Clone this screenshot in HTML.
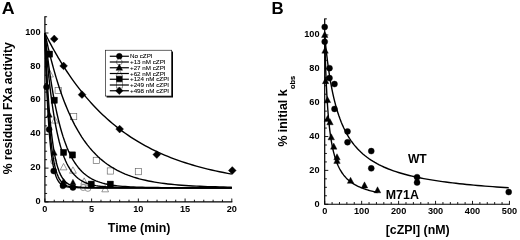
<!DOCTYPE html>
<html><head><meta charset="utf-8"><title>Figure</title>
<style>html,body{margin:0;padding:0;background:#fff}body{width:520px;height:240px;overflow:hidden}</style></head>
<body>
<svg width="520" height="240" viewBox="0 0 520 240" style="display:block;filter:blur(0.35px)">
<rect width="520" height="240" fill="#fff"/>
<g font-family="'Liberation Sans', sans-serif" font-weight="bold" fill="#000">
<text transform="translate(1.7,13.6) scale(1.1,1)" font-size="16.2">A</text>
<text transform="translate(271.4,13.6) scale(1.04,1)" font-size="16.2">B</text>
<g stroke="#000" stroke-width="1.2" fill="none">
<path d="M44.90 16.31 V201.90 H232.30"/>
</g>
<g stroke="#000" stroke-width="0.9" fill="none">
<path d="M44.90 201.90 h3.60"/>
<path d="M44.90 193.46 h2.20"/>
<path d="M44.90 185.01 h2.20"/>
<path d="M44.90 176.56 h2.20"/>
<path d="M44.90 168.12 h3.60"/>
<path d="M44.90 159.68 h2.20"/>
<path d="M44.90 151.23 h2.20"/>
<path d="M44.90 142.78 h2.20"/>
<path d="M44.90 134.34 h3.60"/>
<path d="M44.90 125.90 h2.20"/>
<path d="M44.90 117.45 h2.20"/>
<path d="M44.90 109.00 h2.20"/>
<path d="M44.90 100.56 h3.60"/>
<path d="M44.90 92.12 h2.20"/>
<path d="M44.90 83.67 h2.20"/>
<path d="M44.90 75.22 h2.20"/>
<path d="M44.90 66.78 h3.60"/>
<path d="M44.90 58.34 h2.20"/>
<path d="M44.90 49.89 h2.20"/>
<path d="M44.90 41.44 h2.20"/>
<path d="M44.90 33.00 h3.60"/>
<path d="M44.90 24.56 h2.20"/>
<path d="M44.90 16.76 h2.20"/>
<path d="M44.90 201.90 v-3.40"/>
<path d="M54.24 201.90 v-2.20"/>
<path d="M63.59 201.90 v-2.20"/>
<path d="M72.94 201.90 v-2.20"/>
<path d="M82.28 201.90 v-2.20"/>
<path d="M91.62 201.90 v-3.40"/>
<path d="M100.97 201.90 v-2.20"/>
<path d="M110.31 201.90 v-2.20"/>
<path d="M119.66 201.90 v-2.20"/>
<path d="M129.00 201.90 v-2.20"/>
<path d="M138.35 201.90 v-3.40"/>
<path d="M147.69 201.90 v-2.20"/>
<path d="M157.04 201.90 v-2.20"/>
<path d="M166.39 201.90 v-2.20"/>
<path d="M175.73 201.90 v-2.20"/>
<path d="M185.08 201.90 v-3.40"/>
<path d="M194.42 201.90 v-2.20"/>
<path d="M203.77 201.90 v-2.20"/>
<path d="M213.11 201.90 v-2.20"/>
<path d="M222.46 201.90 v-2.20"/>
<path d="M231.80 201.90 v-3.40"/>
</g>
<text transform="translate(40.6,203.50) scale(0.93,1)" font-size="9.9" text-anchor="end">0</text>
<text transform="translate(40.6,169.80) scale(0.93,1)" font-size="9.9" text-anchor="end">20</text>
<text transform="translate(40.6,136.10) scale(0.93,1)" font-size="9.9" text-anchor="end">40</text>
<text transform="translate(40.6,102.40) scale(0.93,1)" font-size="9.9" text-anchor="end">60</text>
<text transform="translate(40.6,68.70) scale(0.93,1)" font-size="9.9" text-anchor="end">80</text>
<text transform="translate(40.6,35.00) scale(0.93,1)" font-size="9.9" text-anchor="end">100</text>
<text transform="translate(44.90,212.3) scale(0.93,1)" font-size="9.9" text-anchor="middle">0</text>
<text transform="translate(91.62,212.3) scale(0.93,1)" font-size="9.9" text-anchor="middle">5</text>
<text transform="translate(138.35,212.3) scale(0.93,1)" font-size="9.9" text-anchor="middle">10</text>
<text transform="translate(185.08,212.3) scale(0.93,1)" font-size="9.9" text-anchor="middle">15</text>
<text transform="translate(231.80,212.3) scale(0.93,1)" font-size="9.9" text-anchor="middle">20</text>
<text x="139.1" y="232.2" font-size="12.45" text-anchor="middle">Time (min)</text>
<text transform="translate(12.2,108.2) rotate(-90)" font-size="12.2" text-anchor="middle">% residual FXa activity</text>
<circle cx="53.68" cy="161.36" r="3.00" fill="#fff" stroke="#555" stroke-width="0.6"/>
<circle cx="63.59" cy="184.17" r="3.00" fill="#fff" stroke="#555" stroke-width="0.6"/>
<circle cx="72.94" cy="186.70" r="3.00" fill="#fff" stroke="#555" stroke-width="0.6"/>
<circle cx="83.21" cy="187.54" r="3.00" fill="#fff" stroke="#555" stroke-width="0.6"/>
<circle cx="87.89" cy="188.39" r="3.00" fill="#fff" stroke="#555" stroke-width="0.6"/>
<polygon points="50.04,70.58 46.64,76.98 53.44,76.98" fill="#fff" stroke="#555" stroke-width="0.6"/>
<polygon points="54.90,116.69 51.50,123.09 58.30,123.09" fill="#fff" stroke="#555" stroke-width="0.6"/>
<polygon points="63.59,163.48 60.19,169.88 66.99,169.88" fill="#fff" stroke="#555" stroke-width="0.6"/>
<polygon points="72.94,166.85 69.53,173.25 76.34,173.25" fill="#fff" stroke="#555" stroke-width="0.6"/>
<polygon points="84.15,177.83 80.75,184.23 87.55,184.23" fill="#fff" stroke="#555" stroke-width="0.6"/>
<polygon points="105.18,185.43 101.78,191.83 108.58,191.83" fill="#fff" stroke="#555" stroke-width="0.6"/>
<rect x="55.07" y="87.49" width="6.20" height="6.20" fill="#fff" stroke="#555" stroke-width="0.6"/>
<rect x="70.58" y="113.51" width="6.20" height="6.20" fill="#fff" stroke="#555" stroke-width="0.6"/>
<rect x="93.20" y="157.25" width="6.20" height="6.20" fill="#fff" stroke="#555" stroke-width="0.6"/>
<rect x="107.22" y="167.89" width="6.20" height="6.20" fill="#fff" stroke="#555" stroke-width="0.6"/>
<rect x="135.25" y="168.57" width="6.20" height="6.20" fill="#fff" stroke="#555" stroke-width="0.6"/>
<g stroke="#000" stroke-width="1.4" fill="none" stroke-linejoin="round">
<path d="M44.90 33.00 L44.92 33.84 L44.99 36.33 L45.11 40.38 L45.27 45.88 L45.48 52.65 L45.73 60.48 L46.03 69.16 L46.38 78.43 L46.77 88.07 L47.21 97.84 L47.69 107.53 L48.22 116.95 L48.80 125.93 L49.42 134.36 L50.09 142.14 L50.81 149.20 L51.57 155.52 L52.38 161.09 L53.23 165.94 L54.13 170.10 L55.08 173.61 L56.07 176.55 L57.11 178.97 L58.19 180.94 L59.32 182.52 L60.50 183.78 L61.72 184.76 L62.99 185.52 L64.31 186.11 L65.67 186.55 L67.07 186.88 L68.53 187.12 L70.03 187.30 L71.57 187.42 L73.17 187.51 L74.80 187.58 L76.49 187.62 L78.22 187.65 L80.00 187.67 L81.82 187.69 L83.69 187.70 L85.60 187.70 L87.56 187.71 L89.57 187.71 L91.62 187.71 L93.72 187.71 L95.87 187.71 L98.06 187.71 L100.30 187.71 L102.59 187.71 L104.92 187.71 L107.29 187.71 L109.72 187.71 L112.18 187.71 L114.70 187.71 L117.26 187.71 L119.87 187.71 L122.52 187.71 L125.22 187.71 L127.97 187.71 L130.76 187.71 L133.60 187.71 L136.48 187.71 L139.41 187.71 L142.39 187.71 L145.41 187.71 L148.48 187.71 L151.59 187.71 L154.76 187.71 L157.96 187.71 L161.22 187.71 L164.52 187.71 L167.86 187.71 L171.25 187.71 L174.69 187.71 L178.18 187.71 L181.71 187.71 L185.28 187.71 L188.91 187.71 L192.57 187.71 L196.29 187.71 L200.05 187.71 L203.86 187.71 L207.71 187.71 L211.61 187.71 L215.56 187.71 L219.55 187.71 L223.59 187.71 L227.67 187.71 L231.80 187.71"/>
<path d="M44.90 33.00 L44.92 33.71 L44.99 35.80 L45.11 39.23 L45.27 43.90 L45.48 49.70 L45.73 56.46 L46.03 64.03 L46.38 72.22 L46.77 80.85 L47.21 89.73 L47.69 98.69 L48.22 107.57 L48.80 116.22 L49.42 124.52 L50.09 132.36 L50.81 139.67 L51.57 146.39 L52.38 152.49 L53.23 157.97 L54.13 162.82 L55.08 167.07 L56.07 170.76 L57.11 173.91 L58.19 176.57 L59.32 178.81 L60.50 180.66 L61.72 182.17 L62.99 183.41 L64.31 184.39 L65.67 185.18 L67.07 185.79 L68.53 186.27 L70.03 186.64 L71.57 186.92 L73.17 187.14 L74.80 187.30 L76.49 187.41 L78.22 187.50 L80.00 187.56 L81.82 187.61 L83.69 187.64 L85.60 187.66 L87.56 187.68 L89.57 187.69 L91.62 187.70 L93.72 187.70 L95.87 187.71 L98.06 187.71 L100.30 187.71 L102.59 187.71 L104.92 187.71 L107.29 187.71 L109.72 187.71 L112.18 187.71 L114.70 187.71 L117.26 187.71 L119.87 187.71 L122.52 187.71 L125.22 187.71 L127.97 187.71 L130.76 187.71 L133.60 187.71 L136.48 187.71 L139.41 187.71 L142.39 187.71 L145.41 187.71 L148.48 187.71 L151.59 187.71 L154.76 187.71 L157.96 187.71 L161.22 187.71 L164.52 187.71 L167.86 187.71 L171.25 187.71 L174.69 187.71 L178.18 187.71 L181.71 187.71 L185.28 187.71 L188.91 187.71 L192.57 187.71 L196.29 187.71 L200.05 187.71 L203.86 187.71 L207.71 187.71 L211.61 187.71 L215.56 187.71 L219.55 187.71 L223.59 187.71 L227.67 187.71 L231.80 187.71"/>
<path d="M44.90 33.00 L44.92 33.56 L44.99 35.25 L45.11 38.01 L45.27 41.79 L45.48 46.51 L45.73 52.07 L46.03 58.36 L46.38 65.26 L46.77 72.64 L47.21 80.36 L47.69 88.29 L48.22 96.30 L48.80 104.28 L49.42 112.12 L50.09 119.72 L50.81 127.01 L51.57 133.90 L52.38 140.36 L53.23 146.35 L54.13 151.84 L55.08 156.84 L56.07 161.33 L57.11 165.33 L58.19 168.86 L59.32 171.95 L60.50 174.63 L61.72 176.93 L62.99 178.90 L64.31 180.55 L65.67 181.94 L67.07 183.10 L68.53 184.04 L70.03 184.82 L71.57 185.45 L73.17 185.95 L74.80 186.36 L76.49 186.67 L78.22 186.92 L80.00 187.12 L81.82 187.27 L83.69 187.38 L85.60 187.47 L87.56 187.53 L89.57 187.58 L91.62 187.62 L93.72 187.64 L95.87 187.66 L98.06 187.68 L100.30 187.69 L102.59 187.70 L104.92 187.70 L107.29 187.70 L109.72 187.71 L112.18 187.71 L114.70 187.71 L117.26 187.71 L119.87 187.71 L122.52 187.71 L125.22 187.71 L127.97 187.71 L130.76 187.71 L133.60 187.71 L136.48 187.71 L139.41 187.71 L142.39 187.71 L145.41 187.71 L148.48 187.71 L151.59 187.71 L154.76 187.71 L157.96 187.71 L161.22 187.71 L164.52 187.71 L167.86 187.71 L171.25 187.71 L174.69 187.71 L178.18 187.71 L181.71 187.71 L185.28 187.71 L188.91 187.71 L192.57 187.71 L196.29 187.71 L200.05 187.71 L203.86 187.71 L207.71 187.71 L211.61 187.71 L215.56 187.71 L219.55 187.71 L223.59 187.71 L227.67 187.71 L231.80 187.71"/>
<path d="M44.90 33.00 L44.92 33.30 L44.99 34.20 L45.11 35.69 L45.27 37.75 L45.48 40.36 L45.73 43.49 L46.03 47.10 L46.38 51.16 L46.77 55.61 L47.21 60.42 L47.69 65.53 L48.22 70.89 L48.80 76.45 L49.42 82.16 L50.09 87.96 L50.81 93.81 L51.57 99.67 L52.38 105.48 L53.23 111.20 L54.13 116.81 L55.08 122.26 L56.07 127.52 L57.11 132.58 L58.19 137.41 L59.32 142.00 L60.50 146.33 L61.72 150.39 L62.99 154.19 L64.31 157.72 L65.67 160.98 L67.07 163.98 L68.53 166.72 L70.03 169.22 L71.57 171.49 L73.17 173.53 L74.80 175.36 L76.49 177.00 L78.22 178.46 L80.00 179.75 L81.82 180.89 L83.69 181.88 L85.60 182.76 L87.56 183.51 L89.57 184.17 L91.62 184.73 L93.72 185.22 L95.87 185.63 L98.06 185.98 L100.30 186.28 L102.59 186.53 L104.92 186.74 L107.29 186.92 L109.72 187.07 L112.18 187.19 L114.70 187.29 L117.26 187.37 L119.87 187.44 L122.52 187.49 L125.22 187.54 L127.97 187.57 L130.76 187.60 L133.60 187.63 L136.48 187.65 L139.41 187.66 L142.39 187.67 L145.41 187.68 L148.48 187.69 L151.59 187.69 L154.76 187.70 L157.96 187.70 L161.22 187.70 L164.52 187.71 L167.86 187.71 L171.25 187.71 L174.69 187.71 L178.18 187.71 L181.71 187.71 L185.28 187.71 L188.91 187.71 L192.57 187.71 L196.29 187.71 L200.05 187.71 L203.86 187.71 L207.71 187.71 L211.61 187.71 L215.56 187.71 L219.55 187.71 L223.59 187.71 L227.67 187.71 L231.80 187.71"/>
<path d="M44.90 33.00 L44.92 33.22 L44.99 33.87 L45.11 34.95 L45.27 36.44 L45.48 38.35 L45.73 40.64 L46.03 43.31 L46.38 46.33 L46.77 49.67 L47.21 53.31 L47.69 57.23 L48.22 61.38 L48.80 65.75 L49.42 70.30 L50.09 74.99 L50.81 79.81 L51.57 84.70 L52.38 89.65 L53.23 94.63 L54.13 99.60 L55.08 104.54 L56.07 109.43 L57.11 114.23 L58.19 118.93 L59.32 123.52 L60.50 127.96 L61.72 132.26 L62.99 136.39 L64.31 140.34 L65.67 144.12 L67.07 147.71 L68.53 151.10 L70.03 154.30 L71.57 157.31 L73.17 160.12 L74.80 162.75 L76.49 165.18 L78.22 167.44 L80.00 169.52 L81.82 171.44 L83.69 173.19 L85.60 174.79 L87.56 176.25 L89.57 177.57 L91.62 178.76 L93.72 179.84 L95.87 180.80 L98.06 181.67 L100.30 182.44 L102.59 183.13 L104.92 183.73 L107.29 184.27 L109.72 184.74 L112.18 185.16 L114.70 185.52 L117.26 185.84 L119.87 186.11 L122.52 186.35 L125.22 186.56 L127.97 186.74 L130.76 186.89 L133.60 187.02 L136.48 187.13 L139.41 187.23 L142.39 187.31 L145.41 187.38 L148.48 187.43 L151.59 187.48 L154.76 187.52 L157.96 187.56 L161.22 187.58 L164.52 187.61 L167.86 187.63 L171.25 187.64 L174.69 187.66 L178.18 187.67 L181.71 187.68 L185.28 187.68 L188.91 187.69 L192.57 187.69 L196.29 187.70 L200.05 187.70 L203.86 187.70 L207.71 187.70 L211.61 187.71 L215.56 187.71 L219.55 187.71 L223.59 187.71 L227.67 187.71 L231.80 187.71"/>
<path d="M44.90 33.00 L44.92 33.11 L44.99 33.43 L45.11 33.97 L45.27 34.72 L45.48 35.67 L45.73 36.84 L46.03 38.20 L46.38 39.75 L46.77 41.50 L47.21 43.42 L47.69 45.52 L48.22 47.79 L48.80 50.20 L49.42 52.77 L50.09 55.47 L50.81 58.30 L51.57 61.25 L52.38 64.30 L53.23 67.44 L54.13 70.67 L55.08 73.97 L56.07 77.33 L57.11 80.74 L58.19 84.19 L59.32 87.67 L60.50 91.16 L61.72 94.67 L62.99 98.17 L64.31 101.66 L65.67 105.13 L67.07 108.57 L68.53 111.97 L70.03 115.33 L71.57 118.64 L73.17 121.88 L74.80 125.06 L76.49 128.17 L78.22 131.21 L80.00 134.16 L81.82 137.03 L83.69 139.82 L85.60 142.51 L87.56 145.11 L89.57 147.62 L91.62 150.03 L93.72 152.35 L95.87 154.57 L98.06 156.70 L100.30 158.73 L102.59 160.66 L104.92 162.50 L107.29 164.25 L109.72 165.91 L112.18 167.47 L114.70 168.96 L117.26 170.35 L119.87 171.67 L122.52 172.91 L125.22 174.07 L127.97 175.15 L130.76 176.17 L133.60 177.12 L136.48 178.00 L139.41 178.83 L142.39 179.59 L145.41 180.30 L148.48 180.96 L151.59 181.56 L154.76 182.12 L157.96 182.64 L161.22 183.12 L164.52 183.55 L167.86 183.95 L171.25 184.32 L174.69 184.65 L178.18 184.96 L181.71 185.24 L185.28 185.49 L188.91 185.72 L192.57 185.93 L196.29 186.12 L200.05 186.29 L203.86 186.45 L207.71 186.59 L211.61 186.71 L215.56 186.82 L219.55 186.92 L223.59 187.01 L227.67 187.10 L231.80 187.17"/>
<path d="M44.90 33.00 L44.92 33.05 L44.99 33.19 L45.11 33.42 L45.27 33.74 L45.48 34.16 L45.73 34.66 L46.03 35.26 L46.38 35.94 L46.77 36.71 L47.21 37.57 L47.69 38.52 L48.22 39.54 L48.80 40.65 L49.42 41.83 L50.09 43.10 L50.81 44.44 L51.57 45.85 L52.38 47.33 L53.23 48.88 L54.13 50.49 L55.08 52.17 L56.07 53.91 L57.11 55.70 L58.19 57.55 L59.32 59.45 L60.50 61.40 L61.72 63.39 L62.99 65.43 L64.31 67.50 L65.67 69.61 L67.07 71.75 L68.53 73.92 L70.03 76.12 L71.57 78.34 L73.17 80.58 L74.80 82.84 L76.49 85.11 L78.22 87.39 L80.00 89.68 L81.82 91.98 L83.69 94.28 L85.60 96.58 L87.56 98.87 L89.57 101.16 L91.62 103.44 L93.72 105.71 L95.87 107.96 L98.06 110.21 L100.30 112.43 L102.59 114.63 L104.92 116.81 L107.29 118.97 L109.72 121.10 L112.18 123.21 L114.70 125.28 L117.26 127.33 L119.87 129.34 L122.52 131.32 L125.22 133.26 L127.97 135.17 L130.76 137.05 L133.60 138.88 L136.48 140.68 L139.41 142.44 L142.39 144.16 L145.41 145.83 L148.48 147.47 L151.59 149.07 L154.76 150.63 L157.96 152.14 L161.22 153.61 L164.52 155.05 L167.86 156.44 L171.25 157.79 L174.69 159.09 L178.18 160.36 L181.71 161.59 L185.28 162.78 L188.91 163.92 L192.57 165.03 L196.29 166.10 L200.05 167.13 L203.86 168.13 L207.71 169.08 L211.61 170.00 L215.56 170.89 L219.55 171.74 L223.59 172.56 L227.67 173.34 L231.80 174.09"/>
</g>
<circle cx="46.49" cy="87.05" r="3.00" fill="#000" stroke="#000" stroke-width="0.4"/>
<circle cx="49.11" cy="129.44" r="3.00" fill="#000" stroke="#000" stroke-width="0.4"/>
<circle cx="53.68" cy="170.99" r="3.00" fill="#000" stroke="#000" stroke-width="0.4"/>
<circle cx="62.94" cy="185.85" r="3.00" fill="#000" stroke="#000" stroke-width="0.4"/>
<circle cx="72.94" cy="187.54" r="3.00" fill="#000" stroke="#000" stroke-width="0.4"/>
<polygon points="49.29,111.69 46.40,117.13 52.18,117.13" fill="#000" stroke="#000" stroke-width="0.4"/>
<polygon points="54.24,149.69 51.35,155.13 57.13,155.13" fill="#000" stroke="#000" stroke-width="0.4"/>
<polygon points="63.59,178.40 60.70,183.84 66.48,183.84" fill="#000" stroke="#000" stroke-width="0.4"/>
<polygon points="72.94,179.25 70.05,184.69 75.83,184.69" fill="#000" stroke="#000" stroke-width="0.4"/>
<rect x="46.47" y="51.01" width="6.20" height="6.20" fill="#000" stroke="#000" stroke-width="0.4"/>
<rect x="51.14" y="97.12" width="6.20" height="6.20" fill="#000" stroke="#000" stroke-width="0.4"/>
<rect x="60.49" y="149.31" width="6.20" height="6.20" fill="#000" stroke="#000" stroke-width="0.4"/>
<rect x="69.37" y="151.85" width="6.20" height="6.20" fill="#000" stroke="#000" stroke-width="0.4"/>
<rect x="88.15" y="181.07" width="6.20" height="6.20" fill="#000" stroke="#000" stroke-width="0.4"/>
<rect x="107.22" y="181.07" width="6.20" height="6.20" fill="#000" stroke="#000" stroke-width="0.4"/>
<polygon points="54.24,35.01 58.14,38.91 54.24,42.81 50.34,38.91" fill="#000" stroke="#000" stroke-width="0.4"/>
<polygon points="63.59,62.04 67.49,65.94 63.59,69.84 59.69,65.94" fill="#000" stroke="#000" stroke-width="0.4"/>
<polygon points="82.00,90.75 85.90,94.65 82.00,98.55 78.10,94.65" fill="#000" stroke="#000" stroke-width="0.4"/>
<polygon points="119.66,125.20 123.56,129.10 119.66,133.00 115.76,129.10" fill="#000" stroke="#000" stroke-width="0.4"/>
<polygon points="156.76,150.71 160.66,154.61 156.76,158.51 152.86,154.61" fill="#000" stroke="#000" stroke-width="0.4"/>
<polygon points="232.27,166.58 236.17,170.48 232.27,174.38 228.37,170.48" fill="#000" stroke="#000" stroke-width="0.4"/>
<g transform="translate(0.6,0)">
<rect x="106" y="51.5" width="66.4" height="46" fill="#000"/>
<rect x="104.75" y="50.25" width="66.3" height="45.8" fill="#fff" stroke="#222" stroke-width="0.7"/>
<path d="M109.2 56.25 H128.3" stroke="#000" stroke-width="1.2"/>
<circle cx="118.70" cy="56.25" r="2.91" fill="#000" stroke="#000" stroke-width="0.4"/>
<text x="129.4" y="58.45" font-size="6.25" font-weight="normal" stroke="#000" stroke-width="0.08">No cZPI</text>
<circle cx="118.70" cy="62.00" r="2.91" fill="#fff" stroke="#555" stroke-width="0.6"/>
<path d="M109.2 62.00 H128.3" stroke="#000" stroke-width="1.2"/>
<text x="129.4" y="64.20" font-size="6.25" font-weight="normal" stroke="#000" stroke-width="0.08">+13 nM cZPI</text>
<path d="M109.2 67.75 H128.3" stroke="#000" stroke-width="1.2"/>
<polygon points="118.70,64.06 115.40,70.27 122.00,70.27" fill="#000" stroke="#000" stroke-width="0.4"/>
<text x="129.4" y="69.95" font-size="6.25" font-weight="normal" stroke="#000" stroke-width="0.08">+27 nM cZPI</text>
<polygon points="118.70,69.81 115.40,76.02 122.00,76.02" fill="#fff" stroke="#555" stroke-width="0.6"/>
<path d="M109.2 73.50 H128.3" stroke="#000" stroke-width="1.2"/>
<text x="129.4" y="75.70" font-size="6.25" font-weight="normal" stroke="#000" stroke-width="0.08">+62 nM cZPI</text>
<path d="M109.2 79.25 H128.3" stroke="#000" stroke-width="1.2"/>
<rect x="115.69" y="76.24" width="6.01" height="6.01" fill="#000" stroke="#000" stroke-width="0.4"/>
<text x="129.4" y="81.45" font-size="6.25" font-weight="normal" stroke="#000" stroke-width="0.08">+124 nM cZPI</text>
<rect x="115.69" y="81.99" width="6.01" height="6.01" fill="#fff" stroke="#555" stroke-width="0.6"/>
<path d="M109.2 85.00 H128.3" stroke="#000" stroke-width="1.2"/>
<text x="129.4" y="87.20" font-size="6.25" font-weight="normal" stroke="#000" stroke-width="0.08">+249 nM cZPI</text>
<path d="M109.2 90.75 H128.3" stroke="#000" stroke-width="1.2"/>
<polygon points="118.70,86.97 122.48,90.75 118.70,94.53 114.92,90.75" fill="#000" stroke="#000" stroke-width="0.4"/>
<text x="129.4" y="92.95" font-size="6.25" font-weight="normal" stroke="#000" stroke-width="0.08">+498 nM cZPI</text>
</g>
<g stroke="#000" stroke-width="1.2" fill="none">
<path d="M324.70 18.42 V204.25 H509.95"/>
</g>
<g stroke="#000" stroke-width="0.9" fill="none">
<path d="M324.70 204.25 h3.60"/>
<path d="M324.70 195.78 h2.20"/>
<path d="M324.70 187.32 h2.20"/>
<path d="M324.70 178.85 h2.20"/>
<path d="M324.70 170.39 h3.60"/>
<path d="M324.70 161.93 h2.20"/>
<path d="M324.70 153.46 h2.20"/>
<path d="M324.70 145.00 h2.20"/>
<path d="M324.70 136.53 h3.60"/>
<path d="M324.70 128.06 h2.20"/>
<path d="M324.70 119.60 h2.20"/>
<path d="M324.70 111.13 h2.20"/>
<path d="M324.70 102.67 h3.60"/>
<path d="M324.70 94.20 h2.20"/>
<path d="M324.70 85.74 h2.20"/>
<path d="M324.70 77.27 h2.20"/>
<path d="M324.70 68.81 h3.60"/>
<path d="M324.70 60.34 h2.20"/>
<path d="M324.70 51.88 h2.20"/>
<path d="M324.70 43.41 h2.20"/>
<path d="M324.70 34.95 h3.60"/>
<path d="M324.70 26.48 h2.20"/>
<path d="M324.70 18.87 h2.20"/>
<path d="M324.70 204.25 v-3.40"/>
<path d="M332.09 204.25 v-2.20"/>
<path d="M339.48 204.25 v-2.20"/>
<path d="M346.87 204.25 v-2.20"/>
<path d="M354.26 204.25 v-2.20"/>
<path d="M361.65 204.25 v-3.40"/>
<path d="M369.04 204.25 v-2.20"/>
<path d="M376.43 204.25 v-2.20"/>
<path d="M383.82 204.25 v-2.20"/>
<path d="M391.21 204.25 v-2.20"/>
<path d="M398.60 204.25 v-3.40"/>
<path d="M405.99 204.25 v-2.20"/>
<path d="M413.38 204.25 v-2.20"/>
<path d="M420.77 204.25 v-2.20"/>
<path d="M428.16 204.25 v-2.20"/>
<path d="M435.55 204.25 v-3.40"/>
<path d="M442.94 204.25 v-2.20"/>
<path d="M450.33 204.25 v-2.20"/>
<path d="M457.72 204.25 v-2.20"/>
<path d="M465.11 204.25 v-2.20"/>
<path d="M472.50 204.25 v-3.40"/>
<path d="M479.89 204.25 v-2.20"/>
<path d="M487.28 204.25 v-2.20"/>
<path d="M494.67 204.25 v-2.20"/>
<path d="M502.06 204.25 v-2.20"/>
<path d="M509.45 204.25 v-3.40"/>
</g>
<text transform="translate(319.6,206.55) scale(0.93,1)" font-size="9.9" text-anchor="end">0</text>
<text transform="translate(319.6,172.69) scale(0.93,1)" font-size="9.9" text-anchor="end">20</text>
<text transform="translate(319.6,138.83) scale(0.93,1)" font-size="9.9" text-anchor="end">40</text>
<text transform="translate(319.6,104.97) scale(0.93,1)" font-size="9.9" text-anchor="end">60</text>
<text transform="translate(319.6,71.11) scale(0.93,1)" font-size="9.9" text-anchor="end">80</text>
<text transform="translate(319.6,37.25) scale(0.93,1)" font-size="9.9" text-anchor="end">100</text>
<text transform="translate(324.70,214.1) scale(0.93,1)" font-size="9.9" text-anchor="middle">0</text>
<text transform="translate(361.65,214.1) scale(0.93,1)" font-size="9.9" text-anchor="middle">100</text>
<text transform="translate(398.60,214.1) scale(0.93,1)" font-size="9.9" text-anchor="middle">200</text>
<text transform="translate(435.55,214.1) scale(0.93,1)" font-size="9.9" text-anchor="middle">300</text>
<text transform="translate(472.50,214.1) scale(0.93,1)" font-size="9.9" text-anchor="middle">400</text>
<text transform="translate(509.45,214.1) scale(0.93,1)" font-size="9.9" text-anchor="middle">500</text>
<text x="417.7" y="234.3" font-size="12.4" text-anchor="middle">[cZPI] (nM)</text>
<text transform="translate(287,146.6) rotate(-90)" font-size="12.4">% initial k<tspan font-size="7.4" dy="8.2" dx="0.5" stroke="#000" stroke-width="0.15">obs</tspan></text>
<text x="407.9" y="163.2" font-size="12.1">WT</text>
<text x="385.8" y="198.5" font-size="12.4">M71A</text>
<g stroke="#000" stroke-width="1.4" fill="none" stroke-linejoin="round">
<path d="M324.70 34.95 L324.72 35.20 L324.79 35.96 L324.90 37.20 L325.06 38.91 L325.27 41.06 L325.52 43.60 L325.81 46.51 L326.15 49.73 L326.54 53.23 L326.97 56.94 L327.45 60.84 L327.97 64.86 L328.54 68.99 L329.15 73.17 L329.81 77.37 L330.52 81.56 L331.27 85.72 L332.06 89.83 L332.90 93.86 L333.79 97.80 L334.72 101.64 L335.70 105.36 L336.72 108.98 L337.79 112.46 L338.90 115.83 L340.06 119.06 L341.26 122.17 L342.51 125.16 L343.81 128.02 L345.15 130.76 L346.53 133.38 L347.96 135.89 L349.44 138.28 L350.96 140.57 L352.53 142.76 L354.14 144.85 L355.80 146.84 L357.50 148.75 L359.25 150.56 L361.05 152.30 L362.89 153.96 L364.77 155.54 L366.70 157.05 L368.68 158.50 L370.70 159.88 L372.77 161.20 L374.88 162.46 L377.04 163.67 L379.24 164.83 L381.49 165.93 L383.79 166.99 L386.13 168.00 L388.51 168.98 L390.94 169.91 L393.42 170.80 L395.94 171.66 L398.51 172.48 L401.12 173.27 L403.78 174.02 L406.48 174.75 L409.23 175.45 L412.03 176.12 L414.87 176.77 L417.75 177.39 L420.68 177.99 L423.66 178.57 L426.68 179.12 L429.75 179.66 L432.86 180.17 L436.02 180.67 L439.22 181.15 L442.47 181.61 L445.76 182.06 L449.10 182.49 L452.49 182.90 L455.92 183.31 L459.39 183.70 L462.91 184.07 L466.48 184.43 L470.09 184.79 L473.75 185.13 L477.45 185.45 L481.20 185.77 L484.99 186.08 L488.83 186.38 L492.72 186.67 L496.65 186.95 L500.62 187.22 L504.64 187.49 L508.71 187.74"/>
<path d="M324.70 34.95 L324.71 35.23 L324.73 36.06 L324.76 37.43 L324.80 39.30 L324.86 41.66 L324.93 44.44 L325.02 47.61 L325.12 51.12 L325.23 54.91 L325.35 58.93 L325.49 63.12 L325.64 67.45 L325.80 71.86 L325.98 76.32 L326.17 80.78 L326.37 85.22 L326.59 89.61 L326.81 93.93 L327.05 98.15 L327.31 102.26 L327.58 106.25 L327.86 110.12 L328.15 113.85 L328.46 117.45 L328.78 120.90 L329.11 124.22 L329.46 127.39 L329.81 130.43 L330.19 133.34 L330.57 136.12 L330.97 138.77 L331.38 141.30 L331.80 143.72 L332.24 146.02 L332.69 148.21 L333.15 150.30 L333.63 152.30 L334.12 154.20 L334.62 156.01 L335.14 157.74 L335.67 159.39 L336.21 160.96 L336.76 162.46 L337.33 163.89 L337.91 165.25 L338.50 166.55 L339.11 167.80 L339.73 168.99 L340.36 170.13 L341.01 171.21 L341.67 172.26 L342.34 173.25 L343.02 174.20 L343.72 175.12 L344.43 175.99 L345.16 176.83 L345.89 177.63 L346.64 178.40 L347.41 179.14 L348.18 179.85 L348.97 180.54 L349.78 181.19 L350.59 181.82 L351.42 182.43 L352.26 183.01 L353.12 183.57 L353.98 184.11 L354.86 184.63 L355.76 185.13 L356.66 185.61 L357.58 186.08 L358.52 186.53 L359.46 186.96 L360.42 187.38 L361.39 187.78 L362.38 188.17 L363.38 188.55 L364.39 188.91 L365.41 189.26 L366.45 189.60 L367.50 189.93 L368.56 190.25 L369.64 190.56 L370.73 190.86 L371.83 191.15 L372.95 191.43 L374.07 191.70 L375.22 191.96 L376.37 192.22 L377.54 192.46"/>
</g>
<circle cx="324.70" cy="26.99" r="3.00" fill="#000" stroke="#000" stroke-width="0.4"/>
<circle cx="324.70" cy="41.72" r="3.00" fill="#000" stroke="#000" stroke-width="0.4"/>
<circle cx="329.50" cy="68.13" r="3.00" fill="#000" stroke="#000" stroke-width="0.4"/>
<circle cx="329.50" cy="78.12" r="3.00" fill="#000" stroke="#000" stroke-width="0.4"/>
<circle cx="334.49" cy="84.05" r="3.00" fill="#000" stroke="#000" stroke-width="0.4"/>
<circle cx="334.49" cy="108.93" r="3.00" fill="#000" stroke="#000" stroke-width="0.4"/>
<circle cx="347.50" cy="131.45" r="3.00" fill="#000" stroke="#000" stroke-width="0.4"/>
<circle cx="347.50" cy="142.29" r="3.00" fill="#000" stroke="#000" stroke-width="0.4"/>
<circle cx="371.26" cy="151.09" r="3.00" fill="#000" stroke="#000" stroke-width="0.4"/>
<circle cx="371.26" cy="168.36" r="3.00" fill="#000" stroke="#000" stroke-width="0.4"/>
<circle cx="417.07" cy="177.16" r="3.00" fill="#000" stroke="#000" stroke-width="0.4"/>
<circle cx="417.07" cy="182.58" r="3.00" fill="#000" stroke="#000" stroke-width="0.4"/>
<circle cx="508.71" cy="192.06" r="3.00" fill="#000" stroke="#000" stroke-width="0.4"/>
<polygon points="324.70,31.34 321.47,37.42 327.93,37.42" fill="#000" stroke="#000" stroke-width="0.4"/>
<polygon points="325.07,47.08 321.84,53.16 328.30,53.16" fill="#000" stroke="#000" stroke-width="0.4"/>
<polygon points="325.62,77.56 322.39,83.64 328.85,83.64" fill="#000" stroke="#000" stroke-width="0.4"/>
<polygon points="327.47,96.52 324.24,102.60 330.70,102.60" fill="#000" stroke="#000" stroke-width="0.4"/>
<polygon points="327.47,115.48 324.24,121.56 330.70,121.56" fill="#000" stroke="#000" stroke-width="0.4"/>
<polygon points="329.98,118.70 326.75,124.78 333.21,124.78" fill="#000" stroke="#000" stroke-width="0.4"/>
<polygon points="331.24,133.77 328.01,139.85 334.47,139.85" fill="#000" stroke="#000" stroke-width="0.4"/>
<polygon points="333.75,143.08 330.52,149.16 336.98,149.16" fill="#000" stroke="#000" stroke-width="0.4"/>
<polygon points="337.00,153.74 333.77,159.82 340.23,159.82" fill="#000" stroke="#000" stroke-width="0.4"/>
<polygon points="337.00,157.30 333.77,163.38 340.23,163.38" fill="#000" stroke="#000" stroke-width="0.4"/>
<polygon points="350.56,177.28 347.33,183.36 353.80,183.36" fill="#000" stroke="#000" stroke-width="0.4"/>
<polygon points="364.50,181.85 361.27,187.93 367.73,187.93" fill="#000" stroke="#000" stroke-width="0.4"/>
<polygon points="377.54,186.76 374.31,192.84 380.77,192.84" fill="#000" stroke="#000" stroke-width="0.4"/>
</g>
</svg>
</body></html>
